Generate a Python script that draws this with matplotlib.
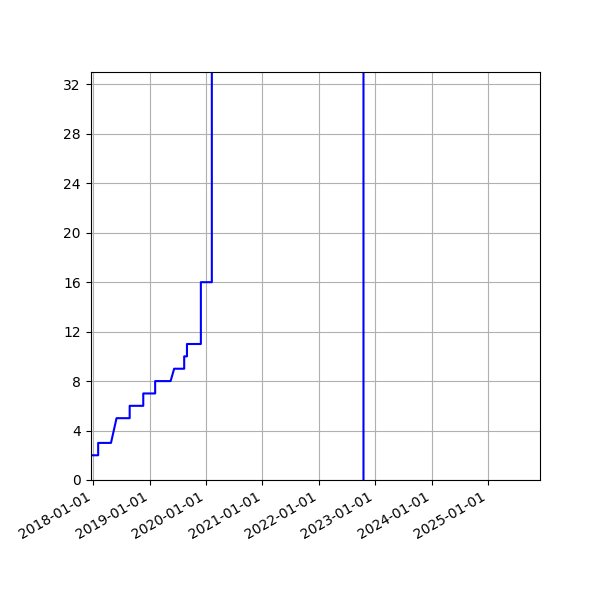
import numpy as np
import pandas as pd
import matplotlib
matplotlib.use("Agg")
import matplotlib.pyplot as plt
import matplotlib.dates as mdates

# points (step-like counts)
dates = ["2017-12-10", "2018-02-02", "2018-02-02", "2018-04-26", "2018-06-01",
         "2018-08-25", "2018-08-25", "2018-11-21", "2018-11-21", "2019-02-06",
         "2019-02-06", "2019-05-17", "2019-06-09", "2019-08-13", "2019-08-13",
         "2019-08-31", "2019-08-31", "2019-11-29", "2019-11-29", "2020-02-08",
         "2020-02-08", "2022-10-17", "2022-10-17"]
counts = [2, 2, 3, 3, 5,
          5, 6, 6, 7, 7,
          8, 8, 9, 9, 10,
          10, 11, 11, 16, 16,
          64, 64, -1]

x = pd.to_datetime(dates)

fig = plt.figure(figsize=(6, 6), dpi=100)
ax = fig.add_subplot(111)
ax.plot(x, counts, color="b", linewidth=1.5)

ax.set_xlim(pd.Timestamp("2017-12-15"), pd.Timestamp("2025-12-03"))
ax.set_ylim(0, 33)
ax.set_yticks(np.arange(0, 33, 4))
ax.xaxis.set_major_locator(mdates.YearLocator())
ax.xaxis.set_major_formatter(mdates.DateFormatter("%Y-%m-%d"))
ax.grid(True)

fig.autofmt_xdate()
fig.subplots_adjust(left=0.151, right=0.9, top=0.88, bottom=0.2)
fig.savefig("out.png")
